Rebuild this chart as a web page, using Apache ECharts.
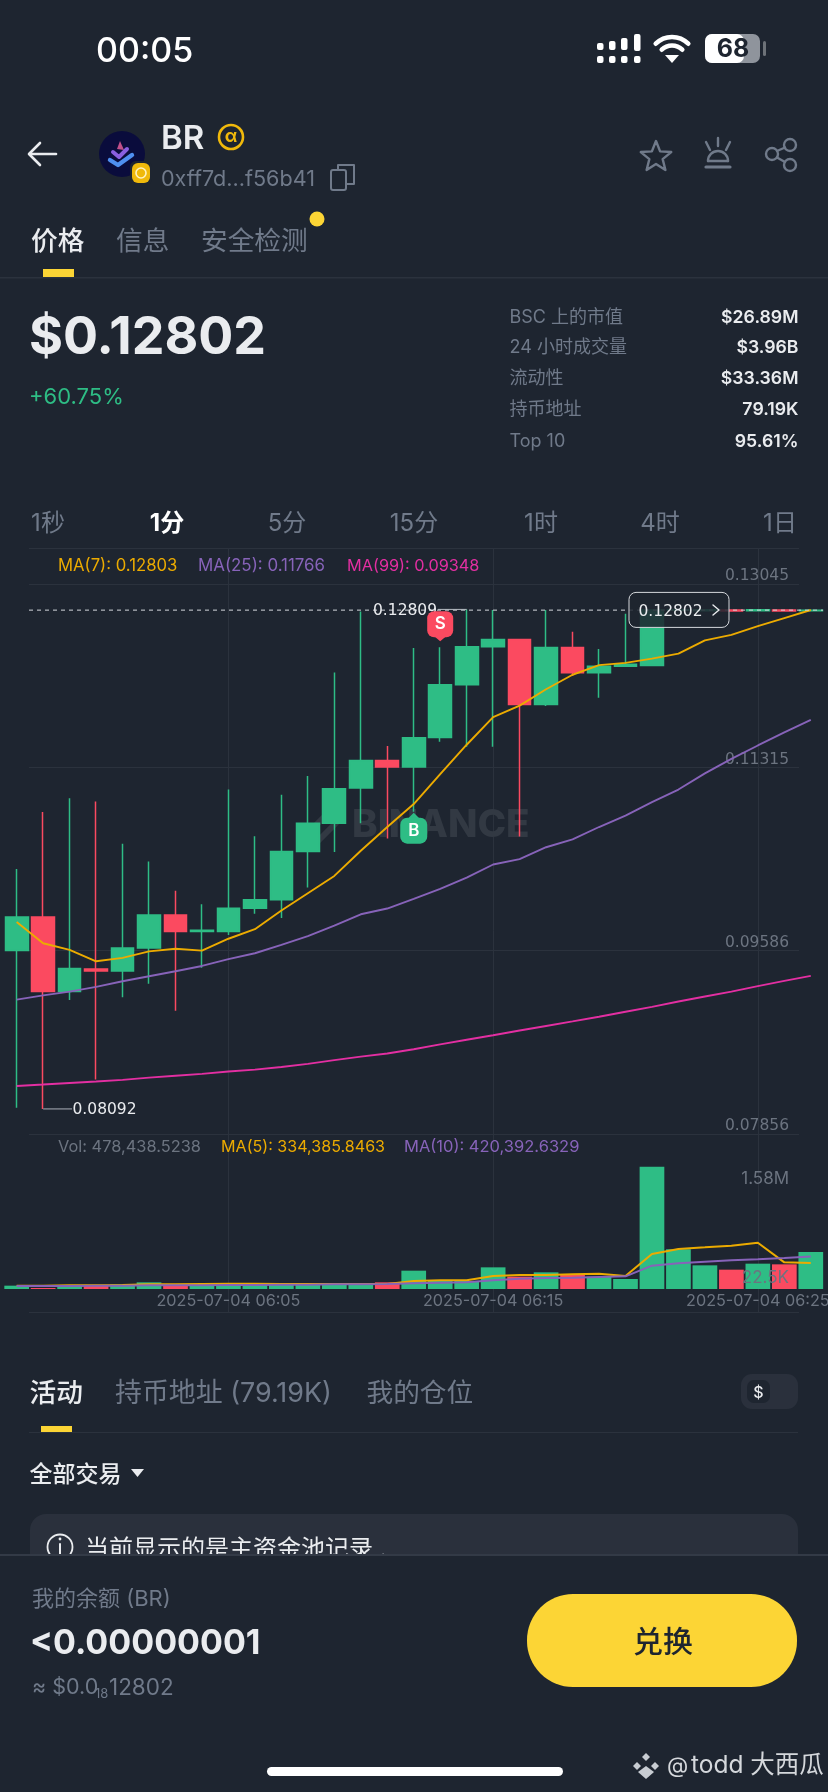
<!DOCTYPE html>
<html>
<head>
<meta charset="utf-8">
<style>html,body{margin:0;padding:0;background:#1e2530}#c{width:828px;height:1792px}</style>
<script src="https://cdn.jsdelivr.net/npm/echarts@6/dist/echarts.min.js"></script>
</head>
<body>
<div id="c"></div>
<script>
const categories = ["05:57","05:58","05:59","06:00","06:01","06:02","06:03","06:04","06:05","06:06","06:07","06:08","06:09","06:10","06:11","06:12","06:13","06:14","06:15","06:16","06:17","06:18","06:19","06:20","06:21","06:22","06:23","06:24","06:25","06:26","06:27"];
const opens  = [0.09587,0.09905,0.09200,0.09413,0.09395,0.09612,0.09923,0.09768,0.09768,0.09988,0.10068,0.10523,0.10790,0.11123,0.11383,0.11321,0.11600,0.12098,0.12456,0.12525,0.11910,0.12449,0.12210,0.12272,0.12279,0.12800,0.12797,0.12803,0.12796,0.12804,0.12796];
const closes = [0.09905,0.09200,0.09417,0.09395,0.09612,0.09923,0.09768,0.09778,0.09988,0.10068,0.10523,0.10790,0.11115,0.11383,0.11321,0.11596,0.12098,0.12456,0.12525,0.11910,0.12449,0.12210,0.12272,0.12290,0.12803,0.12806,0.12805,0.12795,0.12806,0.12795,0.12802];
const lows   = [0.08102,0.08092,0.09121,0.08369,0.09146,0.09273,0.09020,0.09424,0.09735,0.09934,0.09894,0.10183,0.10519,0.10790,0.10646,0.10899,0.11560,0.11513,0.11513,0.10664,0.11896,0.12181,0.11975,0.12272,0.12279,0.12798,0.12795,0.12793,0.12794,0.12793,0.12795];
const highs  = [0.10357,0.10895,0.11025,0.10996,0.10595,0.10429,0.10151,0.10024,0.11108,0.10667,0.11058,0.11235,0.12214,0.12788,0.11520,0.12445,0.12452,0.12809,0.12803,0.12530,0.12803,0.12597,0.12434,0.12767,0.12804,0.12808,0.12807,0.12805,0.12808,0.12806,0.12807];
const ma7  = [0.09858,0.09656,0.09594,0.09486,0.09518,0.09580,0.09605,0.09587,0.09699,0.09789,0.09966,0.10129,0.10292,0.10530,0.10754,0.10971,0.11253,0.11531,0.11791,0.11900,0.12055,0.12192,0.12283,0.12304,0.12344,0.12391,0.12517,0.12568,0.12651,0.12727,0.12803];
const ma25 = [0.09124,0.09164,0.09200,0.09244,0.09298,0.09345,0.09392,0.09442,0.09507,0.09562,0.09641,0.09724,0.09822,0.09930,0.09984,0.10075,0.10169,0.10277,0.10400,0.10451,0.10563,0.10638,0.10754,0.10862,0.10989,0.11108,0.11260,0.11397,0.11524,0.11647,0.11766];
const ma99 = [0.08308,0.08322,0.08337,0.08351,0.08366,0.08387,0.08405,0.08423,0.08445,0.08463,0.08488,0.08517,0.08553,0.08586,0.08615,0.08655,0.08702,0.08745,0.08788,0.08832,0.08875,0.08918,0.08962,0.09009,0.09056,0.09106,0.09153,0.09200,0.09251,0.09301,0.09348];
const volumes = [43050,12900,43000,38700,60300,86100,51700,47400,60300,51700,77500,60300,64600,60300,86100,236800,103300,103300,279800,159300,215300,180800,159300,129200,1580000,512300,305700,249700,327200,318600,478438];
const volMa5  = [43000,43000,47400,47400,51700,60300,60300,64600,68900,68900,64600,64600,64600,64600,64600,103300,111900,111900,167900,180800,180800,189400,198000,167900,452000,516600,538100,559700,598400,344400,334386];
const volMa10 = [38700,38700,38700,43000,43000,47400,47400,47400,51700,51700,56000,56000,60300,60300,64600,73200,81800,86100,111900,133500,142100,146400,155000,163600,301400,331500,353000,370200,383100,400400,420393];
const priceTicks = [0.07856,0.09586,0.11315,0.13045];
const dateTickIdx = [8,18,28];
const currentPrice = 0.12802;
const highLabelIdx = 17, lowLabelIdx = 1, sellIdx = 16, buyIdx = 15;

const F = 'Inter,"Noto Sans CJK SC",sans-serif';
const NUM = '"DejaVu Sans",sans-serif';
const BG = '#1e2530', GRID = '#2b323d', GRAY = '#707a8a', WHITE = '#eaecef', GREEN = '#2ebd85', RED = '#fb4a60', YEL = '#fcd535', MA_Y = '#ecab00', MA_P = '#8763b9', MA_M = '#e32fa2';
const PMIN = 0.07856, PMAX = 0.13385;

const chart = echarts.init(document.getElementById('c'), null, {renderer:'canvas', width:828, height:1792});
const off = {show:false};
const hiddenY = (i, o) => Object.assign({gridIndex:i, type:'value', axisLine:off, axisTick:off, axisLabel:off, splitLine:off}, o||{});
const hiddenX = (i, o) => Object.assign({gridIndex:i, type:'category', data:categories, axisLine:off, axisTick:off, axisLabel:off, splitLine:off}, o||{});
const isDate = i => dateTickIdx.indexOf(i) >= 0;
const axisFont = {fontFamily:NUM, fontSize:15.5, color:'#6c7480'};

chart.setOption({
  backgroundColor: BG,
  animation: false,
  grid: [
    {left:29, width:770, top:548.4, height:585.5, outerBoundsMode:'none'},
    {left:3.43, width:820.6, top:548.4, height:585.5, outerBoundsMode:'none'},
    {left:3.43, width:820.6, top:1134, height:155, outerBoundsMode:'none'},
    {left:29, width:770, top:1134, height:178, outerBoundsMode:'none'},
    {left:16.67, width:794.03, top:548.4, height:763.6, outerBoundsMode:'none'}
  ],
  xAxis: [
    hiddenX(0),
    hiddenX(1),
    hiddenX(2, {axisLabel:{show:true, margin:4, interval:(i)=>isDate(i), formatter:v=>'2025-07-04 '+v, fontFamily:F, fontSize:16.2, color:'#6c7480'}}),
    hiddenX(3),
    hiddenX(4, {boundaryGap:false, splitLine:{show:true, interval:(i)=>isDate(i), lineStyle:{color:GRID, width:1}}})
  ],
  yAxis: [
    hiddenY(0, {min:PMIN, max:PMAX, position:'right',
      axisTick:{show:false, customValues:priceTicks.concat([PMAX])},
      splitLine:{show:true, lineStyle:{color:GRID, width:1}},
      axisLabel:Object.assign({show:true, inside:true, margin:10, verticalAlign:'bottom', customValues:priceTicks, formatter:v=>v.toFixed(5)}, axisFont)}),
    hiddenY(1, {min:PMIN, max:PMAX}),
    hiddenY(2, {min:0, max:2002500, position:'right'}),
    hiddenY(3, {min:0, max:1, position:'right',
      axisTick:{show:false, customValues:[0,1]},
      splitLine:{show:true, lineStyle:{color:GRID, width:1}}}),
    hiddenY(4, {min:0, max:1})
  ],
  series: [
    {type:'candlestick', name:'K', xAxisIndex:1, yAxisIndex:1, silent:true, barWidth:23.2, z:2,
      data: opens.map((o,i)=>[o,closes[i],lows[i],highs[i]]),
      itemStyle:{color:GREEN, color0:RED, borderColor:GREEN, borderColor0:RED, borderColorDoji:GREEN, borderWidth:1.5}},
    {type:'line', name:'MA(7)', xAxisIndex:1, yAxisIndex:1, silent:true, data:ma7, showSymbol:false, symbol:'none', lineStyle:{color:MA_Y, width:1.9}, z:3},
    {type:'line', name:'MA(25)', xAxisIndex:1, yAxisIndex:1, silent:true, data:ma25, showSymbol:false, symbol:'none', lineStyle:{color:MA_P, width:1.9}, z:3},
    {type:'line', name:'MA(99)', xAxisIndex:1, yAxisIndex:1, silent:true, data:ma99, showSymbol:false, symbol:'none', lineStyle:{color:MA_M, width:1.9}, z:3},
    {type:'bar', name:'Vol', xAxisIndex:2, yAxisIndex:2, silent:true, barWidth:24.7, z:2,
      data: volumes.map((v,i)=>({value:v, itemStyle:{color: closes[i]>=opens[i] ? GREEN : RED}}))},
    {type:'line', name:'MA(5)', xAxisIndex:2, yAxisIndex:2, silent:true, data:volMa5, showSymbol:false, symbol:'none', lineStyle:{color:MA_Y, width:2}, z:3},
    {type:'line', name:'MA(10)', xAxisIndex:2, yAxisIndex:2, silent:true, data:volMa10, showSymbol:false, symbol:'none', lineStyle:{color:MA_P, width:2}, z:3}
  ]
});

const Z = 20;
function T(text,x,y,o){o=o||{};const yy=y+(o.dy==null?2:o.dy);return {type:'text',x,y:yy,z:o.z||Z,silent:true,style:{text,fill:o.color||WHITE,font:(o.weight||400)+' '+(o.size||16)+'px '+(o.family||F),align:o.align||'left',verticalAlign:'middle',textAlign:o.align||'left',textVerticalAlign:'middle'}};}
function R(x,y,w,h,fill,r,o){o=o||{};return {type:'rect',z:o.z||Z,silent:true,shape:{x,y,width:w,height:h,r:r||0},style:{fill:fill,stroke:o.stroke||null,lineWidth:o.lw||0,opacity:o.opacity==null?1:o.opacity}};}
function L(x1,y1,x2,y2,c,w,o){o=o||{};return {type:'line',z:o.z||Z,silent:true,shape:{x1,y1,x2,y2},style:{stroke:c,lineWidth:w||1,lineCap:o.cap||'round',lineDash:o.dash||null}};}
function C(cx,cy,r,o){o=o||{};return {type:'circle',z:o.z||Z,silent:true,shape:{cx,cy,r},style:{fill:o.fill||null,stroke:o.stroke||null,lineWidth:o.lw||0}};}
function PL(pts,c,w,o){o=o||{};return {type:'polyline',z:o.z||Z,silent:true,shape:{points:pts},style:{stroke:c,lineWidth:w,fill:null,lineJoin:o.join||'round',lineCap:o.cap||'round'}};}
function PG(pts,o){o=o||{};return {type:'polygon',z:o.z||Z,silent:true,shape:{points:pts},style:{fill:o.fill||null,stroke:o.stroke||null,lineWidth:o.lw||0,lineJoin:'round'}};}
function A(cx,cy,r,s,e,c,w){return {type:'arc',z:Z,silent:true,shape:{cx,cy,r,startAngle:s,endAngle:e,clockwise:true},style:{stroke:c,lineWidth:w,fill:null,lineCap:'round'}};}

const px = (i,v)=>chart.convertToPixel({gridIndex:1},[i,v]);
const g = [];

/* status bar */
g.push(T('00:05',96,50,{size:34,weight:500,color:'#ffffff'}));
[[597,43,50],[609,41,50],[621,38,50],[634,34,51]].forEach(b=>{
  g.push(R(b[0],b[1],6.5,b[2]-b[1],'#fff',2));
  g.push(R(b[0],56,6.5,7,'#fff',2));
});
g.push(A(672,60,23,-Math.PI*0.75,-Math.PI*0.25,'#fff',4.6));
g.push(A(672,60,14.5,-Math.PI*0.75,-Math.PI*0.25,'#fff',4.6));
g.push(PG([[672,63],[665,55],[679,55]],{fill:'#fff'}));
g.push(R(705,34,55,29,'#8f949c',7));
g.push(R(705,34,39,29,'#ffffff',7));
g.push(R(763,41,3,15,'#6d7278',1.5));
g.push(T('68',733,47,{size:25,weight:700,color:'#1e2530',align:'center'}));

/* header */
g.push(L(30,154,56,154,WHITE,2.6));
g.push(PL([[40,143],[29,154],[40,165]],WHITE,2.6));
g.push(C(122,154,23,{fill:'#0a0c3c'}));
g.push(PG([[117,149],[120,141],[124,150]],{fill:'#c0508a'}));
g.push(PL([[113,152],[119,157],[127,149]],'#8a5fe0',4));
g.push(PL([[110,160],[118,165],[132,155]],'#4f8ff0',4.4));
g.push(R(130,161,22,24,BG,6));
g.push(R(132,163,18,20,'#f0b90b',6));
g.push(C(141,173,5,{stroke:'#fff3c0',lw:1.6}));
g.push(T('BR',161,137,{size:33,weight:600}));
g.push(C(231,137,12,{stroke:'#f0b90b',lw:2.6}));
g.push(T('α',231,135,{size:18,weight:700,color:'#f0b90b',align:'center'}));
g.push(T('0xff7d...f56b41',161,177,{size:21.6,color:GRAY}));
g.push(R(331,170,15,20,null,2,{stroke:GRAY,lw:2}));
g.push(PL([[338,170],[338,165],[354,165],[354,184],[346,184]],GRAY,2));
const star=[];for(let i=0;i<10;i++){const r=i%2?7:16,a=-Math.PI/2+i*Math.PI/5;star.push([656+r*Math.cos(a),157+r*Math.sin(a)]);}
g.push(PG(star,{stroke:GRAY,lw:2.4}));
g.push(L(718,138,718,146,GRAY,2.4));g.push(L(706,142,710,150,GRAY,2.4));g.push(L(730,142,726,150,GRAY,2.4));
g.push(A(718,161,10,Math.PI,0,GRAY,2.4));g.push(L(708,161,728,161,GRAY,2.4));g.push(L(706,167,730,167,GRAY,3.2));
g.push(C(790,145,6,{stroke:GRAY,lw:2.4}));g.push(C(790,165,6,{stroke:GRAY,lw:2.4}));g.push(C(772,154,6,{stroke:GRAY,lw:2.4}));
g.push(L(777,151,785,147.5,GRAY,2.4));g.push(L(777,157.5,785,162,GRAY,2.4));

/* tabs */
g.push(T('价格',31,240,{size:26.7,weight:500}));
g.push(T('信息',116,240,{size:26.7,color:GRAY}));
g.push(T('安全检测',201,240,{size:26.7,color:GRAY}));
g.push(C(317,219,7.5,{fill:YEL}));
g.push(R(43,269,31,8,YEL,0));
g.push(R(0,277,828,1.4,GRID,0));

/* price head */
g.push(T('$0.12802',29,336,{size:52,weight:700}));
g.push(T('+60.75%',29,395,{size:22,color:GREEN}));
const statNames = ['BSC 上的市值','24 小时成交量','流动性','持币地址','Top 10'];
const statVals = ['$26.89M','$3.96B','$33.36M','79.19K','95.61%'];
const statY = [316.7,347,378,409,441];
statNames.forEach((n,i)=>{
  g.push(T(n,509.5,statY[i],{size:18,color:GRAY,dy:1}));
  g.push(T(statVals[i],798.5,statY[i],{size:17.7,weight:600,align:'right',dy:1}));
});
const tfNames = ['1秒','1分','5分','15分','1时','4时','1日'];
const tfX = [48,167,287,414,541,660,780];
tfNames.forEach((n,i)=>g.push(T(n,tfX[i],522,{size:24,align:'center',color:i===1?'#fff':GRAY,weight:i===1?700:400})));

/* chart legends */
g.push(T('MA(7): 0.12803',58,565,{size:16.7,color:MA_Y,z:5,dy:1}));
g.push(T('MA(25): 0.11766',198,565,{size:16.9,color:MA_P,z:5,dy:1}));
g.push(T('MA(99): 0.09348',347,565,{size:16.3,color:MA_M,z:5,dy:1}));
g.push(T('Vol: 478,438.5238',58,1146,{size:16.4,color:'#6c7480',z:5,dy:1}));
g.push(T('MA(5): 334,385.8463',221,1146,{size:16.1,color:MA_Y,z:5,dy:1}));
g.push(T('MA(10): 420,392.6329',404,1146,{size:16.5,color:MA_P,z:5,dy:1}));
g.push(T('1.58M',789,1179,{size:17,color:'#6c7480',align:'right',z:5,dy:0}));
g.push(T('22.5K',789,1278,{size:17,color:'#6c7480',align:'right',z:5,dy:0}));

/* watermark */
g.push(T('BINANCE',352,823,{size:38.6,weight:800,color:'#323943',z:1,dy:2}));
g.push(PL([[306,835],[332,809]],'#323943',6,{z:1}));
g.push(PL([[316,843],[342,817]],'#323943',6,{z:1}));

/* current price line + tag */
const yCur = px(0,currentPrice)[1];
g.push(L(29,yCur,823,yCur,'#d5d8dc',1,{dash:[4,4],cap:'butt',z:6}));
g.push(R(629,592.4,100,35,'rgba(30,37,48,0.86)',7,{stroke:'#d5d8dc',lw:1,z:7}));
g.push(T('0.12802',638.5,610,{size:15.5,family:NUM,color:WHITE,z:8,dy:1.5}));
g.push(PL([[713,605],[719,610],[713,615]],WHITE,1.4,{z:8}));

/* extremes */
const hp = px(highLabelIdx,highs[highLabelIdx]);
g.push(L(438,hp[1],hp[0],hp[1],'#b7bcc3',1,{cap:'butt',z:8}));
g.push(T(highs[highLabelIdx].toFixed(5),373,hp[1],{size:15.5,family:NUM,z:8,dy:1.5}));
const lp = px(lowLabelIdx,lows[lowLabelIdx]);
g.push(L(lp[0],lp[1],72,lp[1],'#8c919a',1.3,{cap:'butt',z:8}));
g.push(T(lows[lowLabelIdx].toFixed(5),72.5,lp[1],{size:15.5,family:NUM,z:8,dy:1.5}));

/* trade markers */
const sp = px(sellIdx,highs[sellIdx]);
g.push(PG([[sp[0]-6,sp[1]-11],[sp[0]+6,sp[1]-11],[sp[0],sp[1]-6]],{fill:RED,z:8}));
g.push(R(sp[0]-13,sp[1]-36,26,26,RED,7,{z:8}));
g.push(T('S',sp[0],sp[1]-23,{size:17,weight:600,color:'#fff',align:'center',z:9,dy:0}));
const bp = px(buyIdx,lows[buyIdx]);
g.push(PG([[bp[0]-6,bp[1]+7],[bp[0]+6,bp[1]+7],[bp[0],bp[1]+1]],{fill:GREEN,z:8}));
g.push(R(bp[0]-13.5,bp[1]+6,27,26,GREEN,7,{z:8}));
g.push(T('B',bp[0],bp[1]+19,{size:17,weight:600,color:'#fff',align:'center',z:9,dy:0}));

/* lower tabs */
g.push(T('活动',29.5,1392,{size:26.7,weight:500}));
g.push(T('持币地址 (79.19K)',115,1392,{size:26.9,color:GRAY}));
g.push(T('我的仓位',366.5,1392,{size:26.7,color:GRAY}));
g.push(R(741,1374,57,35,'#2a303c',11));
g.push(R(747,1380,23,23,BG,7));
g.push(T('$',758.5,1391,{size:16,weight:500,align:'center'}));
g.push(R(41,1426,31,6,YEL,0));
g.push(R(29,1432,769,1,GRID,0));
g.push(T('全部交易',29.5,1473,{size:23,weight:500}));
g.push(PG([[131,1469],[144,1469],[137.5,1477]],{fill:WHITE}));
g.push(R(30,1514,768,70,'#2a303c',16,{z:15}));
g.push(C(60,1547,12.5,{stroke:WHITE,lw:1.8,z:16}));
g.push(L(60,1544,60,1555,WHITE,2,{z:16}));
g.push(C(60,1539,1.4,{fill:WHITE,z:16}));
g.push(T('当前显示的是主资金池记录 .',85,1548,{size:24,z:16}));

/* bottom panel */
g.push(R(0,1554,828,238,BG,0,{z:17}));
g.push(R(0,1554,828,2,'#333a46',0,{z:18}));
g.push(T('我的余额 (BR)',32,1597,{size:22,color:GRAY}));
g.push(T('<0.00000001',30,1642,{size:34,weight:700}));
g.push(T('≈ $0.0',32,1686,{size:21.5,color:GRAY}));
g.push(T('18',95,1692,{size:13,color:GRAY}));
g.push(T('12802',109,1686,{size:22.5,color:GRAY}));
g.push(R(527,1594,270,93,YEL,46));
g.push(T('兑换',663,1641,{size:30,weight:500,color:'#1e2530',align:'center'}));
g.push(R(267,1767,296,9,'#ffffff',4.5));
g.push(PG([[646,1753],[650,1757],[646,1761],[642,1757]],{fill:'#c8ccd2'}));
g.push(PG([[637,1762],[641,1766],[637,1770],[633,1766]],{fill:'#c8ccd2'}));
g.push(PG([[655,1762],[659,1766],[655,1770],[651,1766]],{fill:'#c8ccd2'}));
g.push(PG([[646,1766],[654,1772],[646,1779],[638,1772]],{fill:'#c8ccd2'}));
g.push(T('@',667,1764,{size:22,color:'#d5d8dc'}));
g.push(T('todd 大西瓜',691,1764,{size:24.5,color:'#d5d8dc'}));

chart.setOption({graphic:{elements:g}});
</script>
</body>
</html>
